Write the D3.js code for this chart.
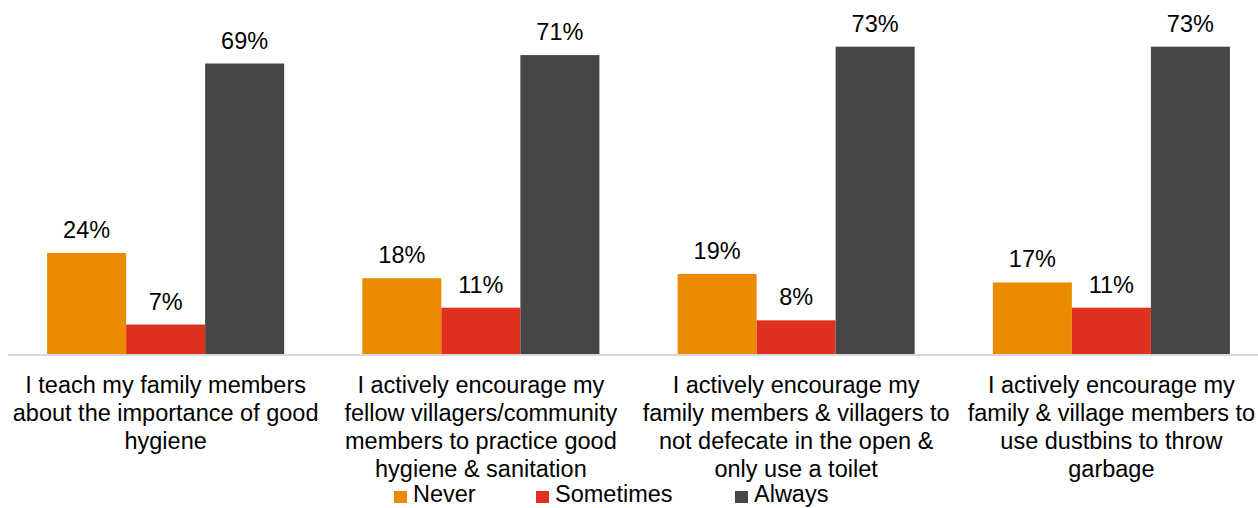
<!DOCTYPE html>
<html>
<head>
<meta charset="utf-8">
<script src="https://cdn.jsdelivr.net/npm/d3@7"></script>
<style>
  html, body { margin: 0; padding: 0; background: #fff; }
  svg { display: block; }
  text { font-family: "Liberation Sans", Arial, sans-serif; fill: #000; }
</style>
</head>
<body>
<svg id="chart" width="1258" height="508"></svg>
<script>
const categories = [
  ["I teach my family members", "about the importance of good", "hygiene"],
  ["I actively encourage my", "fellow villagers/community", "members to practice good", "hygiene & sanitation"],
  ["I actively encourage my", "family members & villagers to", "not defecate in the open &", "only use a toilet"],
  ["I actively encourage my", "family & village members to", "use dustbins to throw", "garbage"]
];
const seriesNames = ["Never", "Sometimes", "Always"];
const never = [24, 18, 19, 17];
const sometimes = [7, 11, 8, 11];
const always = [69, 71, 73, 73];
const colors = ["#EB8C00", "#E0301E", "#464646"];

const svg = d3.select("#chart");
const baseY = 354;
const x0 = d3.scaleBand().domain(d3.range(categories.length)).range([8, 1269]).paddingInner(0.248).paddingOuter(0.124);
const x1 = d3.scaleBand().domain(seriesNames).range([0, x0.bandwidth()]);
const y = d3.scaleLinear().domain([0, 80]).range([baseY, baseY - 4.21 * 80]);

const series = [never, sometimes, always];

// axis line
svg.append("line").attr("x1", 8).attr("x2", 1258).attr("y1", baseY + 1).attr("y2", baseY + 1)
  .attr("stroke", "#d9d9d9").attr("stroke-width", 2);

series.forEach((vals, si) => {
  const g = svg.append("g");
  g.selectAll("rect").data(vals).join("rect")
    .attr("x", (d, i) => x0(i) + x1(seriesNames[si]))
    .attr("y", d => y(d))
    .attr("width", x1.bandwidth())
    .attr("height", d => y(0) - y(d))
    .attr("fill", colors[si]);
  g.selectAll("text").data(vals).join("text")
    .attr("x", (d, i) => x0(i) + x1(seriesNames[si]) + x1.bandwidth() / 2)
    .attr("y", d => y(d) - 15)
    .attr("text-anchor", "middle")
    .style("font-size", "23.5px")
    .text(d => d + "%");
});

// category labels
categories.forEach((lines, i) => {
  const t = svg.append("text")
    .attr("x", x0(i) + x0.bandwidth() / 2)
    .attr("y", 393)
    .attr("text-anchor", "middle")
    .style("font-size", "23.5px");
  lines.forEach((ln, j) => {
    t.append("tspan").attr("x", x0(i) + x0.bandwidth() / 2).attr("y", 393 + j * 28).text(ln);
  });
});

// legend
const legendX = [394, 536, 735];
seriesNames.forEach((name, i) => {
  svg.append("rect").attr("x", legendX[i]).attr("y", 491).attr("width", 13).attr("height", 12).attr("fill", colors[i]);
  svg.append("text").attr("x", legendX[i] + 19).attr("y", 502).style("font-size", "23.5px").text(name);
});
</script>
</body>
</html>
